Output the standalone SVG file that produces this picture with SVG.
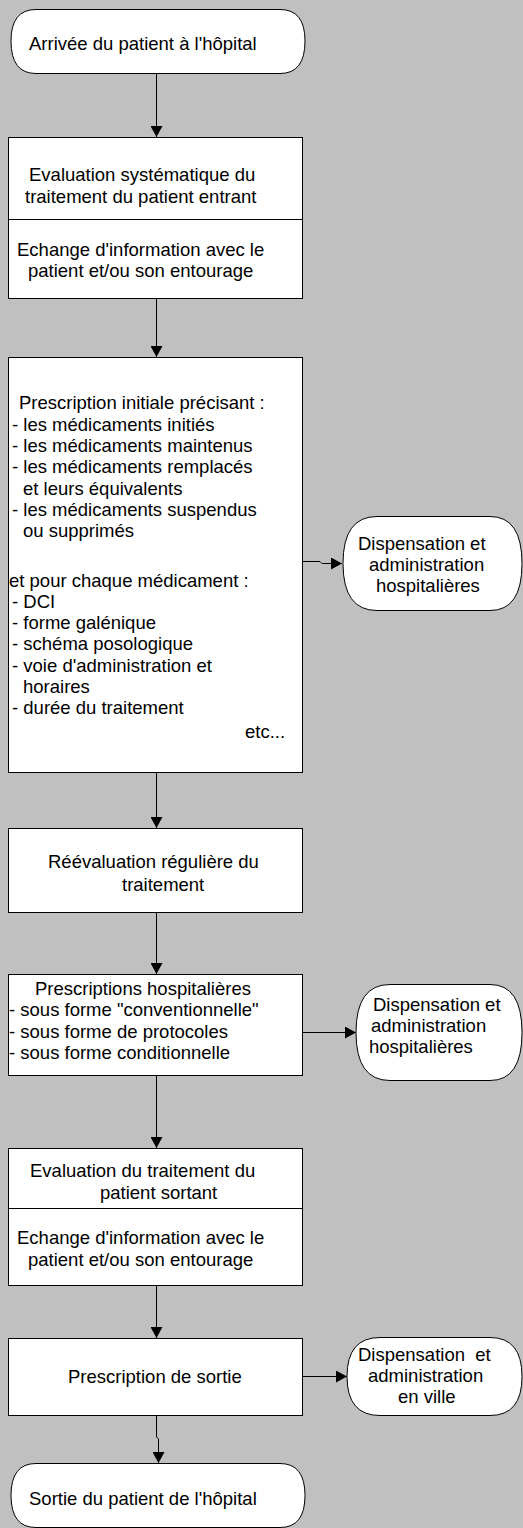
<svg xmlns="http://www.w3.org/2000/svg" width="523" height="1528" viewBox="0 0 523 1528">
<style>
.bg{fill:#c0c0c0}
.box{fill:#fff;stroke:#000;stroke-width:1}
.ln{fill:none;stroke:#000;stroke-width:1}
.ah{fill:#000}
text{font-family:"Liberation Sans",Arial,sans-serif;font-size:18.5px;fill:#000}
</style>
<defs>
<marker id="arr" markerWidth="11" markerHeight="12" refX="11" refY="6" orient="auto" markerUnits="userSpaceOnUse">
<path d="M0,0 L11,6 L0,12 Z" class="ah"/>
</marker>
</defs>
<rect class="bg" x="0" y="0" width="523" height="1528"/>

<g id="connectors">
<path class="ln" d="M156.5,73 V137" marker-end="url(#arr)"/>
<path class="ln" d="M156.5,298 V357" marker-end="url(#arr)"/>
<path class="ln" d="M302.5,561.5 H320 L322,563.5 H342" marker-end="url(#arr)"/>
<path class="ln" d="M156.5,772 V828" marker-end="url(#arr)"/>
<path class="ln" d="M156.5,912 V974" marker-end="url(#arr)"/>
<path class="ln" d="M302.5,1032.5 H356" marker-end="url(#arr)"/>
<path class="ln" d="M156.5,1075 V1148" marker-end="url(#arr)"/>
<path class="ln" d="M156.5,1285 V1338" marker-end="url(#arr)"/>
<path class="ln" d="M302.5,1376.5 H347" marker-end="url(#arr)"/>
<path class="ln" d="M156.5,1415 V1437 L158.5,1439 V1463" marker-end="url(#arr)"/>
</g>

<g id="start">
<path class="box" d="M36,9.5 H280 Q305,9.5 305,41 Q305,73.5 280,73.5 H36 Q11,73.5 11,41 Q11,9.5 36,9.5 Z"/>
<text x="29" y="50">Arrivée du patient à l'hôpital</text>
</g>

<g id="eval-entrant">
<rect class="box" x="8.5" y="137.5" width="294" height="161"/>
<line class="ln" x1="8.5" y1="219.5" x2="302.5" y2="219.5"/>
<text x="29" y="181">Evaluation systématique du</text>
<text x="25" y="203">traitement du patient entrant</text>
<text x="17" y="256">Echange d'information avec le</text>
<text x="28" y="277">patient et/ou son entourage</text>
</g>

<g id="prescription-initiale">
<rect class="box" x="8.5" y="357.5" width="294" height="415"/>
<text x="19" y="409">Prescription initiale précisant :</text>
<text x="12" y="431">- les médicaments initiés</text>
<text x="12" y="452">- les médicaments maintenus</text>
<text x="12" y="473">- les médicaments remplacés</text>
<text x="23" y="495">et leurs équivalents</text>
<text x="12" y="516">- les médicaments suspendus</text>
<text x="23" y="537">ou supprimés</text>
<text x="9" y="587">et pour chaque médicament :</text>
<text x="12" y="608">- DCI</text>
<text x="12" y="629">- forme galénique</text>
<text x="12" y="650">- schéma posologique</text>
<text x="12" y="672">- voie d'administration et</text>
<text x="23" y="693">horaires</text>
<text x="12" y="714">- durée du traitement</text>
<text x="245" y="738">etc...</text>
</g>

<g id="dispensation-1">
<path class="box" d="M377,516.5 H490 Q522,516.5 522,563.5 Q522,610.5 490,610.5 H377 Q343,610.5 343,563.5 Q343,516.5 377,516.5 Z"/>
<text x="358" y="550">Dispensation et</text>
<text x="369" y="571">administration</text>
<text x="376" y="592">hospitalières</text>
</g>

<g id="reevaluation">
<rect class="box" x="8.5" y="828.5" width="294" height="84"/>
<text x="48" y="868">Réévaluation régulière du</text>
<text x="122" y="891">traitement</text>
</g>

<g id="prescriptions-hosp">
<rect class="box" x="8.5" y="974.5" width="294" height="101"/>
<text x="35" y="995">Prescriptions hospitalières</text>
<text x="9" y="1016">- sous forme "conventionnelle"</text>
<text x="9" y="1038">- sous forme de protocoles</text>
<text x="9" y="1059">- sous forme conditionnelle</text>
</g>

<g id="dispensation-2">
<path class="box" d="M390,984.5 H490 Q522,984.5 522,1032.5 Q522,1080.5 490,1080.5 H390 Q356,1080.5 356,1032.5 Q356,984.5 390,984.5 Z"/>
<text x="373" y="1011">Dispensation et</text>
<text x="371" y="1032">administration</text>
<text x="369" y="1053">hospitalières</text>
</g>

<g id="eval-sortant">
<rect class="box" x="8.5" y="1148.5" width="294" height="137"/>
<line class="ln" x1="8.5" y1="1208.5" x2="302.5" y2="1208.5"/>
<text x="30" y="1177">Evaluation du traitement du</text>
<text x="100" y="1199">patient sortant</text>
<text x="17" y="1244">Echange d'information avec le</text>
<text x="28" y="1266">patient et/ou son entourage</text>
</g>

<g id="prescription-sortie">
<rect class="box" x="8.5" y="1338.5" width="294" height="77"/>
<text x="68" y="1383">Prescription de sortie</text>
</g>

<g id="dispensation-ville">
<path class="box" d="M380,1337.5 H490 Q522,1337.5 522,1376.5 Q522,1415.5 490,1415.5 H380 Q347,1415.5 347,1376.5 Q347,1337.5 380,1337.5 Z"/>
<text x="358" y="1361" xml:space="preserve">Dispensation  et</text>
<text x="368" y="1382">administration</text>
<text x="398" y="1403">en ville</text>
</g>

<g id="end">
<path class="box" d="M36,1463.5 H280 Q305,1463.5 305,1495.5 Q305,1527.5 280,1527.5 H36 Q11,1527.5 11,1495.5 Q11,1463.5 36,1463.5 Z"/>
<text x="29" y="1505">Sortie du patient de l'hôpital</text>
</g>
</svg>
